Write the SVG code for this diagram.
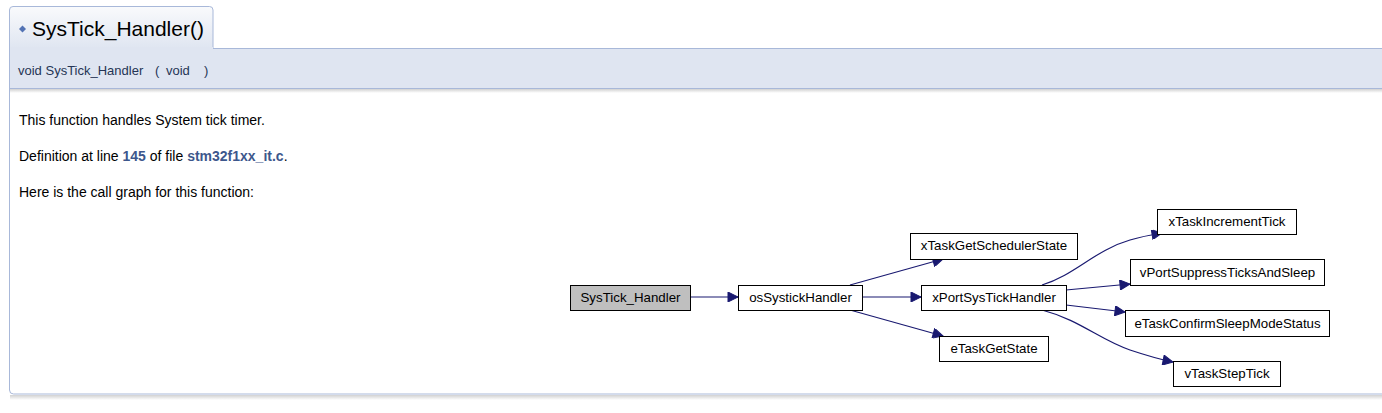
<svg xmlns="http://www.w3.org/2000/svg" width="1382" height="413" viewBox="0 0 1382 413">
<defs>
<linearGradient id="tabg" x1="0" y1="0" x2="0" y2="1">
<stop offset="0" stop-color="#F9FAFC"/><stop offset="1" stop-color="#DFE5F1"/>
</linearGradient>
<linearGradient id="shadow" x1="0" y1="0" x2="0" y2="1">
<stop offset="0" stop-color="#000" stop-opacity="0.18"/><stop offset="1" stop-color="#000" stop-opacity="0"/>
</linearGradient>
<marker id="arr" viewBox="0 0 10 10" refX="10" refY="5" markerWidth="14" markerHeight="10" markerUnits="userSpaceOnUse" orient="auto">
<path d="M0,0 L10,5 L0,10 Z" fill="#191970" stroke="#191970" stroke-width="1"/>
</marker>
<style>
.pg{font-family:"Liberation Sans",Arial,sans-serif;font-size:14px;fill:#000}
.lnk{font-weight:bold;fill:#3D578C}
.nd rect{fill:#fff;stroke:#000;stroke-width:1}
.nd text{font-family:"Liberation Sans",Arial,sans-serif;font-size:13.3px;fill:#000;text-anchor:middle}
.ed path{fill:none;stroke:#191970;stroke-width:1.2;marker-end:url(#arr)}
</style>
</defs>
<rect width="1382" height="413" fill="#fff"/>
<!-- body box -->
<rect x="9.5" y="60" width="1400" height="334" rx="4" fill="#fff" stroke="#A8B8D9"/>
<rect x="10" y="395" width="1372" height="5" fill="url(#shadow)"/>
<!-- header band -->
<rect x="9.5" y="48.5" width="1400" height="40" fill="#DFE5F1" stroke="#A8B8D9"/>
<rect x="10" y="89" width="1372" height="4" fill="url(#shadow)"/>
<!-- tab -->
<path d="M9.5,49 L9.5,10 Q9.5,6.5 13,6.5 L209.5,6.5 Q213,6.5 213,10 L213,49" fill="url(#tabg)" stroke="#A8B8D9"/>
<rect x="10" y="47" width="203" height="3" fill="#DFE5F1"/>
<path d="M22.5,25.5 L26,29 L22.5,32.5 L19,29 Z" fill="#5373B4"/>
<text x="32" y="36" font-family="'Liberation Sans',Arial,sans-serif" font-size="21" fill="#000">SysTick_Handler()</text>
<g font-family="'Liberation Sans',Arial,sans-serif" font-size="13" fill="#253555">
<text x="18" y="75">void SysTick_Handler</text>
<text x="155" y="75">(</text>
<text x="166" y="75">void</text>
<text x="204" y="75">)</text>
</g>
<text class="pg" x="19" y="125">This function handles System tick timer.</text>
<text class="pg" x="19" y="161">Definition at line <tspan class="lnk">145</tspan> of file <tspan class="lnk">stm32f1xx_it.c</tspan>.</text>
<text class="pg" x="19" y="197">Here is the call graph for this function:</text>
<!-- connectors -->
<g id="connectors" class="ed">
<path d="M690,297 L738,297"/>
<path d="M850,285 L943,259"/>
<path d="M862,297 L921,297"/>
<path d="M850,310 L943,336"/>
<path d="M1042,285 C1075,275 1095,250 1130,240 C1140,237 1150,235 1162,233"/>
<path d="M1066,290 L1130,284"/>
<path d="M1066,305 L1125,312"/>
<path d="M1042,310 C1080,320 1100,340 1130,350 C1145,355 1158,359 1173,362"/>
</g>
<g id="n_systick" class="nd"><rect x="570.5" y="285.5" width="120" height="25" style="fill:#BFBFBF"/><text x="630.5" y="302">SysTick_Handler</text></g>
<g id="n_os" class="nd"><rect x="738.5" y="285.5" width="124" height="25"/><text x="800.5" y="302">osSystickHandler</text></g>
<g id="n_sched" class="nd"><rect x="910.5" y="233.5" width="167" height="26"/><text x="994" y="250">xTaskGetSchedulerState</text></g>
<g id="n_xport" class="nd"><rect x="921.5" y="285.5" width="145" height="25"/><text x="994" y="302">xPortSysTickHandler</text></g>
<g id="n_getstate" class="nd"><rect x="939.5" y="336.5" width="109" height="25"/><text x="994" y="353">eTaskGetState</text></g>
<g id="n_incr" class="nd"><rect x="1157.5" y="209.5" width="139" height="25"/><text x="1227" y="226">xTaskIncrementTick</text></g>
<g id="n_supp" class="nd"><rect x="1130.5" y="259.5" width="194" height="26"/><text x="1227.5" y="277">vPortSuppressTicksAndSleep</text></g>
<g id="n_conf" class="nd"><rect x="1125.5" y="310.5" width="204" height="26"/><text x="1227.5" y="328">eTaskConfirmSleepModeStatus</text></g>
<g id="n_step" class="nd"><rect x="1173.5" y="361.5" width="107" height="25"/><text x="1227" y="378">vTaskStepTick</text></g>
</svg>
